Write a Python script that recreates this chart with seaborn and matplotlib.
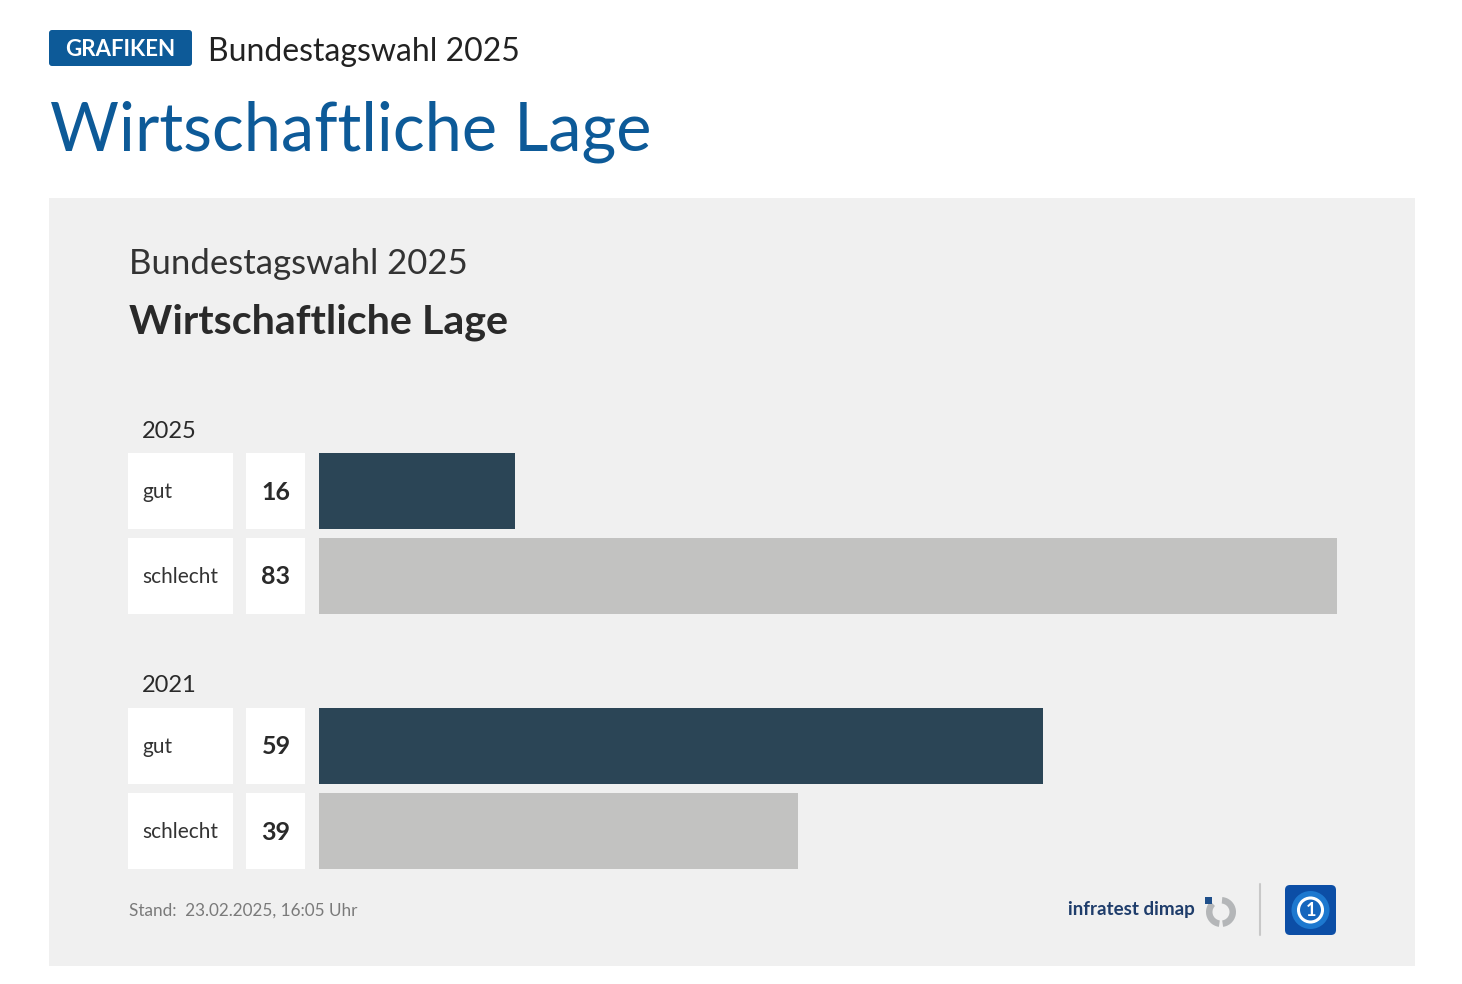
import matplotlib
matplotlib.use("Agg")
import matplotlib.pyplot as plt
from matplotlib.patches import Rectangle, FancyBboxPatch, Wedge, Circle
import seaborn as sns
import pandas as pd

# ---- data ----
years = ["2025", "2021"]
answers = ["gut", "schlecht"]
values_2025 = [16, 83]
values_2021 = [59, 39]
title = "Wirtschaftliche Lage"
subtitle = "Bundestagswahl 2025"
stand = "Stand:  23.02.2025, 16:05 Uhr"

DARK = "#2b4556"
GREY = "#c2c2c1"
PANEL = "#f0f0f0"
BLUE = "#0d5a98"

sns.set_theme(style="white")
FONT = "Lato"
plt.rcParams["font.family"] = [FONT, "DejaVu Sans"]

W, H = 1462, 984
fig = plt.figure(figsize=(W / 100, H / 100), dpi=100)
fig.patch.set_facecolor("white")
PX = fig.dpi_scale_trans  # inches; 1 px = 0.01 in


def fx(x):
    return x / W


def fy(y):
    return 1 - y / H


def pin(x, y):
    return (x / 100, (H - y) / 100)


def frect(x0, y0, x1, y1, **kw):
    r = Rectangle((fx(x0), fy(y1)), fx(x1 - x0), (y1 - y0) / H,
                  transform=fig.transFigure, **kw)
    fig.add_artist(r)
    return r


DY = 3  # text baseline tweak

# panel background
frect(49, 198, 1415, 966, facecolor=PANEL, edgecolor="none", zorder=0)

# header
hb = FancyBboxPatch(pin(49, 66), 1.43, 0.36,
                    boxstyle="round,pad=0,rounding_size=0.03",
                    transform=PX, facecolor=BLUE, edgecolor="none")
fig.add_artist(hb)
fig.text(fx(120.5), fy(48.5 + 1), "GRAFIKEN", color="white", fontsize=16,
         fontweight="bold", ha="center", va="center")
fig.text(fx(208), fy(49 + DY), subtitle, color="#222222", fontsize=23,
         ha="left", va="center")
fig.text(fx(50), fy(126 + DY + 3), title, color=BLUE, fontsize=48,
         ha="left", va="center")

# panel titles
fig.text(fx(129), fy(261 + DY), subtitle, color="#333333", fontsize=25,
         ha="left", va="center")
fig.text(fx(129), fy(319 + DY), title, color="#2a2a2a", fontsize=29.7,
         fontweight="bold", ha="left", va="center")

# bar groups
groups = [(years[0], values_2025, 453), (years[1], values_2021, 708)]
pitch = 85
bar_h = 76
px_per_unit = 12.27
ax_left, ax_right = 319, 1415

for year, vals, top in groups:
    df = pd.DataFrame({"answer": answers, "value": vals})
    ax_h = pitch + bar_h
    ax = fig.add_axes([fx(ax_left), fy(top + ax_h), fx(ax_right - ax_left), ax_h / H])
    sns.barplot(data=df, x="value", y="answer", hue="answer",
                palette=[DARK, GREY], width=bar_h / pitch, saturation=1,
                legend=False, ax=ax, orient="h", edgecolor="none", linewidth=0)
    half = bar_h / pitch / 2
    ax.set_ylim(1 + half, -half)
    ax.set_xlim(0, (ax_right - ax_left) / px_per_unit)
    ax.set_axis_off()
    ax.patch.set_alpha(0)

    fig.text(fx(142), fy(top - 25 + DY), year, color="#2a2a2a", fontsize=17,
             ha="left", va="center")
    for i, (lab, v) in enumerate(zip(answers, vals)):
        y0 = top + i * pitch
        y1 = y0 + bar_h
        frect(128, y0, 233, y1, facecolor="white", edgecolor="none", zorder=1)
        frect(246, y0, 305, y1, facecolor="white", edgecolor="none", zorder=1)
        fig.text(fx(142), fy((y0 + y1) / 2 + 1), lab, color="#333333", fontsize=15,
                 ha="left", va="center", zorder=2)
        fig.text(fx(276), fy((y0 + y1) / 2 + 1), str(v), color="#2a2a2a", fontsize=18,
                 fontweight="bold", ha="center", va="center", zorder=2)

# footer
fig.text(fx(129), fy(909 + 2), stand, color="#7a7a7a", fontsize=12.3,
         ha="left", va="center")
fig.text(fx(1195), fy(909 + 1), "infratest dimap", color="#1f3d6b", fontsize=13.5,
         fontweight="bold", ha="right", va="center")
# infratest icon
ring = Wedge(pin(1221, 912), 0.15, 135, 85, width=0.065,
             transform=PX, facecolor="#b4b6b8", edgecolor="none")
fig.add_artist(ring)
ring_gap = Wedge(pin(1221, 912), 0.16, 262, 278, width=0.08,
                 transform=PX, facecolor=PANEL, edgecolor="none")
fig.add_artist(ring_gap)
fig.add_artist(Rectangle(pin(1205, 904), 0.07, 0.07, transform=PX,
                         facecolor="#1f4f8a", edgecolor="none"))
# separator
fig.add_artist(plt.Line2D([fx(1260), fx(1260)], [fy(884), fy(935)],
                          transform=fig.transFigure, color="#c8c8c8", lw=1.5))
# ARD logo
ard = FancyBboxPatch(pin(1285, 935), 0.51, 0.50,
                     boxstyle="round,pad=0,rounding_size=0.05",
                     transform=PX, facecolor="#0c4ea6", edgecolor="none")
fig.add_artist(ard)
fig.add_artist(Circle(pin(1310.5, 910), 0.19, transform=PX,
                      facecolor="#1d78cf", edgecolor="none"))
fig.add_artist(Circle(pin(1310.5, 910), 0.12, transform=PX,
                      facecolor="#1566bd", edgecolor="white", lw=2.2))
fig.text(fx(1311), fy(911), "1", color="white", fontsize=13, fontweight="bold",
         ha="center", va="center")

fig.savefig("out.png", dpi=100, facecolor="white")
